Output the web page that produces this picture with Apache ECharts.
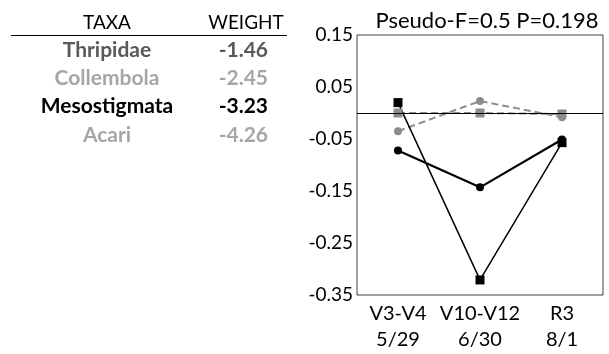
<!DOCTYPE html>
<html>
<head>
<meta charset="utf-8">
<script src="https://cdn.jsdelivr.net/npm/echarts@6/dist/echarts.min.js"></script>
<style>
html,body{margin:0;padding:0;background:#fff;}
#c{width:609px;height:354px;}
</style>
</head>
<body>
<div id="c"></div>
<script>
// ---- data ----
var categories = ['V3-V4\n5/29', 'V10-V12\n6/30', 'R3\n8/1'];
var blackSquares = [0.020, -0.321, -0.057];
var blackCircles = [-0.072, -0.143, -0.051];
var graySquares  = [0.000, 0.000, -0.002];
var grayCircles  = [-0.035, 0.023, -0.008];
var taxa    = ['Thripidae', 'Collembola', 'Mesostigmata', 'Acari'];
var weights = ['-1.46', '-2.45', '-3.23', '-4.26'];
var titleText = 'Pseudo-F=0.5 P=0.198';

// ---- styles ----
var taxaColors = ['#595959', '#a6a6a6', '#000000', '#a6a6a6'];
var FONT = 'Lato, "Liberation Sans", sans-serif';

var chart = echarts.init(document.getElementById('c'));

var graphics = [
  {type:'text', x:107, y:23, style:{text:'TAXA', font:'400 19px ' + FONT, fill:'#000', align:'center', verticalAlign:'middle'}},
  {type:'text', x:246, y:23, style:{text:'WEIGHT', font:'400 19px ' + FONT, fill:'#000', align:'center', verticalAlign:'middle'}},
  {type:'line', shape:{x1:11, y1:35.5, x2:287, y2:35.5}, style:{stroke:'#000', lineWidth:1}}
];
taxa.forEach(function(t, i){
  graphics.push({type:'text', x:107, y:50 + i*28.3,
    style:{text:t, font:'700 21px ' + FONT, fill:taxaColors[i], align:'center', verticalAlign:'middle'}});
  graphics.push({type:'text', x:268, y:50 + i*28.3,
    style:{text:weights[i], font:'700 21px ' + FONT, fill:taxaColors[i], align:'right', verticalAlign:'middle'}});
});

var option = {
  animation:false,
  title:{text:titleText, left:482, textAlign:'center', top:5,
    textStyle:{fontFamily:FONT, fontWeight:'normal', fontSize:22, color:'#000'}},
  grid:{left:357, right:6, top:35, bottom:59, show:true, borderColor:'#404040', borderWidth:1},
  xAxis:{type:'category', data:categories, boundaryGap:true,
    axisLine:{show:false}, axisTick:{show:false},
    axisLabel:{fontFamily:FONT, fontSize:20, color:'#000', lineHeight:26, margin:6, interval:0}},
  yAxis:{type:'value', min:-0.35, max:0.15, interval:0.05,
    splitLine:{show:false}, axisLine:{show:false}, axisTick:{show:false},
    axisLabel:{fontFamily:FONT, fontSize:19, color:'#000', margin:4,
      formatter:function(v){
        var k = Math.round(v*100);
        if (Math.abs(k) % 10 !== 5) return '';
        return (k/100).toFixed(2);
      }}},
  graphic:graphics,
  series:[
    {type:'line', data:graySquares, symbol:'rect', symbolSize:9, color:'#8c8c8c',
      lineStyle:{color:'#8c8c8c', width:2, type:[7,4]}, itemStyle:{color:'#8c8c8c'},
      markLine:{silent:true, symbol:'none', label:{show:false},
        lineStyle:{color:'#000', width:1, type:'solid'}, data:[{yAxis:0}]}},
    {type:'line', data:grayCircles, symbol:'circle', symbolSize:8, color:'#8c8c8c',
      lineStyle:{color:'#8c8c8c', width:2, type:[7,4]}, itemStyle:{color:'#8c8c8c'}},
    {type:'line', data:blackCircles, symbol:'circle', symbolSize:8, color:'#000',
      lineStyle:{color:'#000', width:2.2}, itemStyle:{color:'#000'}},
    {type:'line', data:blackSquares, symbol:'rect', symbolSize:9, color:'#000',
      lineStyle:{color:'#000', width:1.5}, itemStyle:{color:'#000'}}
  ]
};
chart.setOption(option);
</script>
</body>
</html>
